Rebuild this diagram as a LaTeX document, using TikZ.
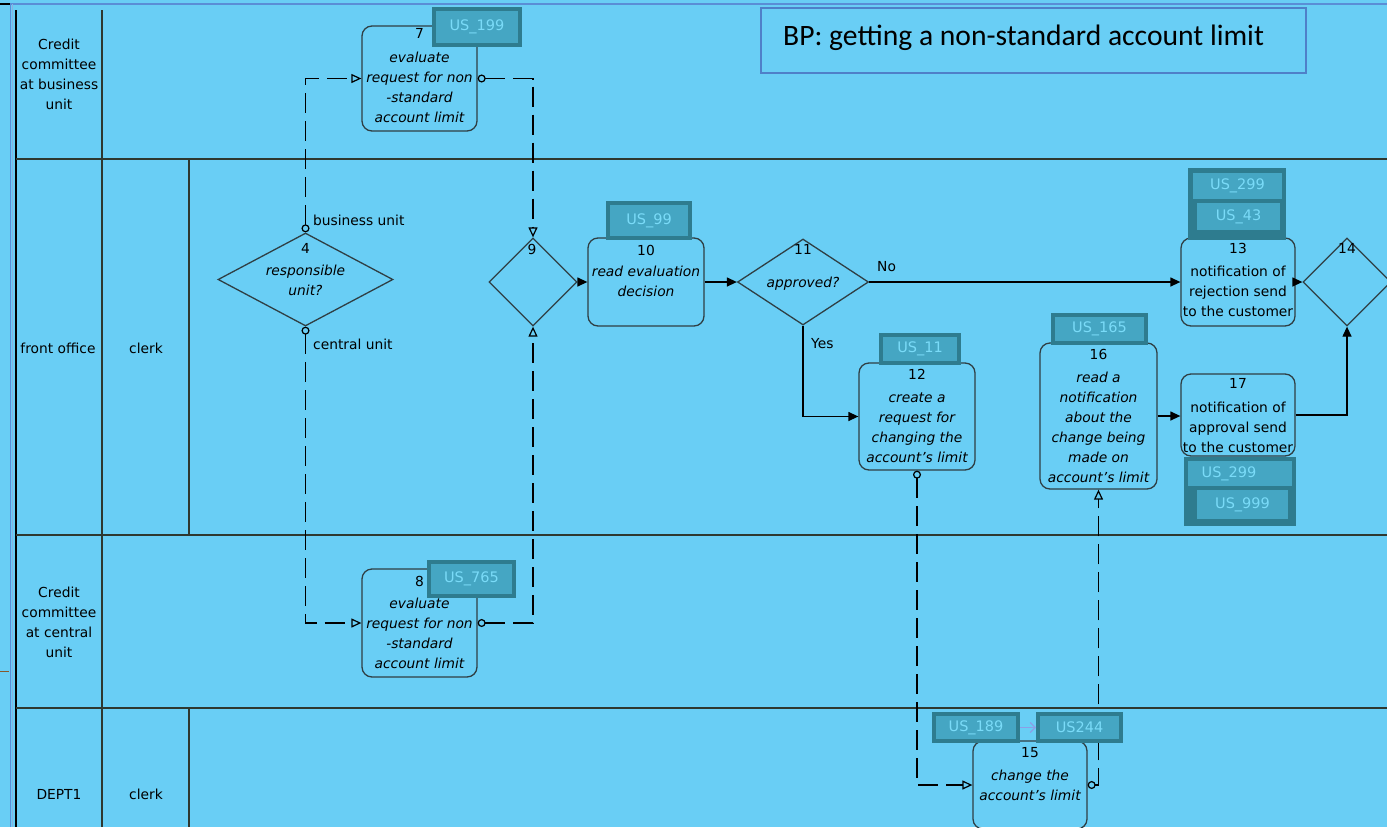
\documentclass[tikz,border=0pt]{standalone}
\usepackage{fontspec}
\setmainfont{DejaVu Sans}
\newfontfamily\titlefont{Carlito}
\usetikzlibrary{shapes.geometric,arrows.meta}
\definecolor{pool}{HTML}{69CEF5}
\definecolor{laneline}{HTML}{2E3830}
\definecolor{shapeedge}{HTML}{2F3F44}
\definecolor{tagedge}{HTML}{2E7C8F}
\definecolor{tagfill}{HTML}{45A6C3}
\definecolor{tagtext}{HTML}{7ADBF8}
\definecolor{frameblue}{HTML}{5A8ED6}
\definecolor{titleedge}{HTML}{4F80C8}
\definecolor{tiplink}{HTML}{8C9FE6}
\begin{document}
\begin{tikzpicture}[x=1bp,y=-1bp,
  lbl/.style={font=\fontsize{13.8bp}{20bp}\selectfont, align=center, inner sep=0pt, anchor=north},
  ilbl/.style={lbl, font=\fontsize{13.8bp}{20bp}\selectfont\itshape},
  lblb/.style={font=\fontsize{13.8bp}{20bp}\selectfont, inner sep=0pt, anchor=base},
  task/.style={draw=shapeedge, line width=1.3bp, rounded corners=10bp, inner sep=0pt},
  gate/.style={diamond, draw=shapeedge, line width=1.3bp, inner sep=0pt},
  storytag/.style={draw=tagedge, line width=4bp, fill=tagfill, text=tagtext, inner sep=0pt,
    font=\fontsize{14.5bp}{16bp}\selectfont},
  tagbg/.style={draw=tagedge, line width=4bp, fill=tagedge, inner sep=0pt},
  taginner/.style={fill=tagfill, text=tagtext, inner sep=0pt, font=\fontsize{14.5bp}{16bp}\selectfont},
  flow/.style={draw=black, line width=1.3bp, -{Triangle[length=10bp,width=9bp]}},
  msg/.style={draw=black, line width=1.5bp, dash pattern=on 20bp off 8bp,
    {Circle[open,length=8bp,width=8bp,line width=1.2bp]}-{Triangle[open,length=10bp,width=9bp,line width=1.2bp]}},
  lane/.style={draw=laneline, line width=1.5bp}]

\useasboundingbox (0,0) rectangle (1387,827);
\fill[pool] (0,0) rectangle (1387,827);

% outer frame
\draw[frameblue, line width=2bp] (10,4) -- (1387,4);
\draw[black, line width=1.5bp] (0,4) -- (10,4);
\draw[frameblue, line width=1bp] (10.5,4) -- (10.5,827);
\draw[frameblue!70!white, line width=1bp] (12.5,4) -- (12.5,827);
\draw[brown!70!black, line width=1bp] (0,671) -- (9,671);

% swimlanes
\draw[black, line width=2bp] (16,10) -- (16,827);
\draw[lane] (102,10) -- (102,827);
\draw[lane] (189,159) -- (189,535);
\draw[lane] (189,708) -- (189,827);
\draw[lane] (16,159) -- (1387,159);
\draw[lane] (16,535) -- (1387,535);
\draw[lane] (16,708) -- (1387,708);

\node[lbl] (h1) at (59,35) {\strut Credit\\committee\\at business\\unit};
\node[lblb] (h2) at (58,353) {front office};
\node[lblb] (r2) at (146,353) {clerk};
\node[lbl] (h3) at (59,583) {\strut Credit\\committee\\at central\\unit};
\node[lblb] (h4) at (59,799) {DEPT1};
\node[lblb] (r4) at (146,799) {clerk};

% title
\node[draw=titleedge, line width=1.2bp, minimum width=545bp, minimum height=65bp, inner sep=0pt] (title) at (1033.5,40.5) {};
\node[anchor=base west, inner sep=0pt, font=\titlefont\fontsize{29.6bp}{32bp}\selectfont] (titletext) at (783,45) {BP: getting a non-standard account limit};

% activities and gateways
\node[task, minimum width=115bp, minimum height=105bp] (t7) at (419.5,78.5) {};
\node[ilbl] (t7x) at (419.5,24) {\strut\textup{7}\\[4bp]evaluate\\request for non\\-standard\\account limit};

\node[task, minimum width=115bp, minimum height=108bp] (t8) at (419.5,623) {};
\node[ilbl] (t8x) at (419.5,572) {\strut\textup{8}\\[2bp]evaluate\\request for non\\-standard\\account limit};

\node[gate, minimum width=175bp, minimum height=93bp] (d4) at (305.5,279.5) {};
\node[ilbl] (d4x) at (305.5,239) {\strut\textup{4}\\[2bp]responsible\\unit?};

\node[gate, minimum width=88bp, minimum height=88bp] (g9) at (533,282) {};
\node[lbl] (g9x) at (532,240) {\strut 9};

\node[task, minimum width=116bp, minimum height=88bp] (t10) at (646,282) {};
\node[ilbl] (t10x) at (646,241) {\strut\textup{10}\\[1bp]read evaluation\\decision};

\node[gate, minimum width=131bp, minimum height=86bp] (d11) at (803,282) {};
\node[ilbl] (d11x) at (803,240) {\strut\textup{11}\\[13bp]approved?};

\node[task, minimum width=116bp, minimum height=107bp] (t12) at (917,416.5) {};
\node[ilbl] (t12x) at (917,365) {\strut\textup{12}\\[3bp]create a\\request for\\changing the\\account's limit};

\node[task, minimum width=114bp, minimum height=88bp] (t13) at (1238,282) {};
\node[lbl] (t13x) at (1238,239) {\strut 13\\[3bp]notification of\\rejection send\\to the customer};

\node[gate, minimum width=88bp, minimum height=88bp] (g14) at (1347,282) {};
\node[lbl] (g14x) at (1347,239) {\strut 14};

\node[task, minimum width=117bp, minimum height=146bp] (t16) at (1098.5,416) {};
\node[ilbl] (t16x) at (1098.5,345) {\strut\textup{16}\\[3bp]read a\\notification\\about the\\change being\\made on\\account's limit};

\node[task, minimum width=114bp, minimum height=82bp] (t17) at (1238,415) {};
\node[lbl] (t17x) at (1238,374) {\strut 17\\[4bp]notification of\\approval send\\to the customer};

\node[task, minimum width=114bp, minimum height=88bp] (t15) at (1030,785) {};
\node[ilbl] (t15x) at (1030,743) {\strut\textup{15}\\[3bp]change the\\account's limit};

% message flows
\draw[msg] (d4.north) |- (t7.west);
\draw[msg] (t7.east) -| (g9.north);
\draw[msg] (d4.south) |- (t8.west);
\draw[msg] (t8.east) -| (g9.south);
\draw[msg] (t12.south) |- (t15.west);
\draw[msg] (t15.east) -| (t16.south);

% sequence flows
\draw[flow] (g9.east) -- (t10.west);
\draw[flow] (t10.east) -- (d11.west);
\draw[flow] (d11.east) -- (d11.east -| t13.west);
\draw[flow] (d11.south) |- (t12.west);
\draw[flow] (t16.east) -- (t16.east -| t17.west);
\draw[flow] (t13.east) -- (g14.west);
\draw[flow] (t17.east) -| (g14.south);

\node[lblb, anchor=base west] (lbus) at (313,225) {business unit};
\node[lblb, anchor=base west] (lcen) at (313,349) {central unit};
\node[lblb, anchor=base west] (lno) at (877,271) {No};
\node[lblb, anchor=base west] (lyes) at (811,348) {Yes};

% user story tags
\node[storytag, minimum width=86bp, minimum height=36bp] (tg199) at (477,27) {US\_199};
\node[storytag, minimum width=82bp, minimum height=35bp] (tg99) at (649,220.5) {US\_99};
\node[storytag, minimum width=78bp, minimum height=28bp] (tg11) at (920,349) {US\_11};
\node[tagbg, minimum width=94bp, minimum height=68bp] (tg13) at (1237,204) {};
\node[taginner, minimum width=89bp, minimum height=26bp] (tg299a) at (1237.5,186) {US\_299};
\node[taginner, minimum width=83bp, minimum height=27bp] (tg43) at (1238.5,216.5) {US\_43};
\node[storytag, minimum width=93bp, minimum height=28bp] (tg165) at (1099.5,329) {US\_165};
\node[tagbg, minimum width=108bp, minimum height=65bp] (tg17) at (1240,491.5) {};
\node[taginner, minimum width=104bp, minimum height=25bp] (tg299b) at (1240,473.5) {US\_299\hspace*{22bp}};
\node[storytag, minimum width=95bp, minimum height=33bp] (tg999) at (1242.5,504.5) {US\_999};
\node[storytag, minimum width=85bp, minimum height=34bp] (tg765) at (471.5,579) {US\_765};
\node[storytag, minimum width=84bp, minimum height=27bp] (tg189) at (976,727.5) {US\_189};
\node[storytag, minimum width=83bp, minimum height=27bp] (tg244) at (1079.5,727.5) {US244};
\draw[tiplink, line width=1.2bp, -{Straight Barb[length=5bp,width=10bp]}] (tg189.east) -- (tg244.west);
\end{tikzpicture}
\end{document}
